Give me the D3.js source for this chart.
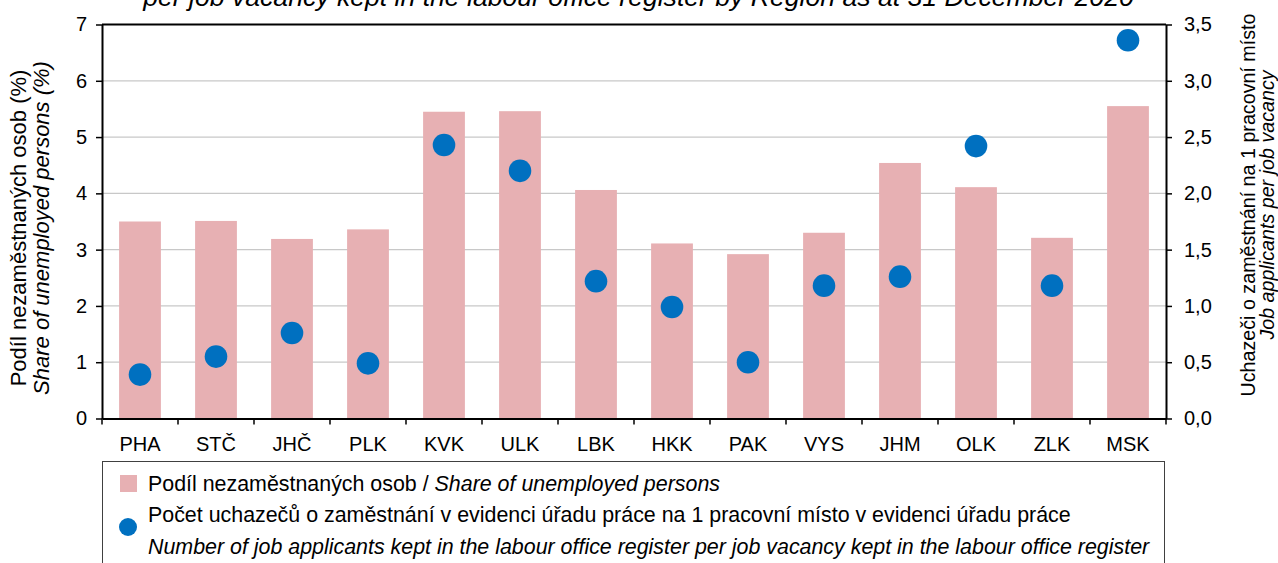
<!DOCTYPE html>
<html>
<head>
<meta charset="utf-8">
<script src="https://cdn.jsdelivr.net/npm/d3@7"></script>
<style>
  body { margin: 0; background: #fff; overflow: hidden; }
  text { font-family: "Liberation Sans", Arial, sans-serif; fill: #000; }
</style>
</head>
<body>
<div id="chart"></div>
<script>
var regions = ['PHA', 'STČ', 'JHČ', 'PLK', 'KVK', 'ULK', 'LBK', 'HKK', 'PAK', 'VYS', 'JHM', 'OLK', 'ZLK', 'MSK'];
var shareUnemployed = [3.50, 3.51, 3.19, 3.36, 5.45, 5.46, 4.06, 3.11, 2.92, 3.30, 4.54, 4.11, 3.21, 5.55];
var applicantsPerVacancy = [0.39, 0.55, 0.76, 0.49, 2.43, 2.20, 1.22, 0.99, 0.50, 1.18, 1.26, 2.42, 1.18, 3.36];
var leftTicks = [0, 1, 2, 3, 4, 5, 6, 7];
var rightTicks = [0, 0.5, 1, 1.5, 2, 2.5, 3, 3.5];

var W = 1278, H = 563;
var plotLeft = 102, plotRight = 1166, plotTop = 24.5, plotBottom = 418.5;
var font = '"Liberation Sans", Arial, sans-serif';

var svg = d3.select('#chart')
  .append('svg')
  .attr('width', W)
  .attr('height', H);

// bars take ~55% of each category slot
var x = d3.scaleBand()
  .domain(regions)
  .range([plotLeft, plotRight])
  .paddingInner(0.45)
  .paddingOuter(0.225);

var yL = d3.scaleLinear().domain([0, 7]).range([plotBottom, plotTop]);
var yR = d3.scaleLinear().domain([0, 3.5]).range([plotBottom, plotTop]);

var comma = function(d) { return d3.format('.1f')(d).replace('.', ','); };

// gridlines
svg.append('g')
  .selectAll('line')
  .data(leftTicks.slice(1, -1))
  .enter()
  .append('line')
  .attr('x1', plotLeft).attr('x2', plotRight)
  .attr('y1', function(d) { return yL(d); })
  .attr('y2', function(d) { return yL(d); })
  .attr('stroke', '#c8c8c8')
  .attr('stroke-width', 1.3);

// bars
svg.append('g')
  .selectAll('rect')
  .data(shareUnemployed)
  .enter()
  .append('rect')
  .attr('x', function(d, i) { return x(regions[i]); })
  .attr('y', function(d) { return yL(d); })
  .attr('width', x.bandwidth())
  .attr('height', function(d) { return plotBottom - yL(d); })
  .attr('fill', '#e7b0b3');

// dots
svg.append('g')
  .selectAll('circle')
  .data(applicantsPerVacancy)
  .enter()
  .append('circle')
  .attr('cx', function(d, i) { return x(regions[i]) + x.bandwidth() / 2; })
  .attr('cy', function(d) { return yR(d); })
  .attr('r', 11.3)
  .attr('fill', '#0070c0');

// axes
var axL = svg.append('g')
  .attr('transform', 'translate(' + plotLeft + ',0)')
  .call(d3.axisLeft(yL).tickValues(leftTicks).tickSize(6).tickSizeOuter(0).tickPadding(9).tickFormat(d3.format('d')));
var axR = svg.append('g')
  .attr('transform', 'translate(' + plotRight + ',0)')
  .call(d3.axisRight(yR).tickValues(rightTicks).tickSize(6).tickSizeOuter(0).tickPadding(12).tickFormat(comma));
[axL, axR].forEach(function(ax) {
  ax.select('.domain').attr('stroke', '#000').attr('stroke-width', 2);
  ax.selectAll('.tick line').attr('stroke', '#000').attr('stroke-width', 1.5);
  ax.selectAll('.tick text')
    .attr('font-size', '20px')
    .attr('font-family', font)
    .attr('fill', '#000');
});

// top border
svg.append('line')
  .attr('x1', plotLeft).attr('x2', plotRight)
  .attr('y1', plotTop).attr('y2', plotTop)
  .attr('stroke', '#000').attr('stroke-width', 2);

var axB = svg.append('g')
  .attr('transform', 'translate(0,' + plotBottom + ')')
  .call(d3.axisBottom(x).tickSize(0).tickSizeOuter(0));
axB.select('.domain').attr('stroke', '#000').attr('stroke-width', 2);
axB.selectAll('.tick text')
  .attr('y', 32.5)
  .attr('dy', 0)
  .attr('font-size', '20px')
  .attr('font-family', font)
  .attr('fill', '#000');

// category separators below the axis
var bounds = regions.map(function(c) { return x(c) + x.bandwidth() / 2 - x.step() / 2; });
bounds.push(plotRight);
svg.append('g')
  .selectAll('line')
  .data(bounds)
  .enter()
  .append('line')
  .attr('x1', function(d) { return d; })
  .attr('x2', function(d) { return d; })
  .attr('y1', plotBottom)
  .attr('y2', plotBottom + 6)
  .attr('stroke', '#000')
  .attr('stroke-width', 1.5);

// title (cut at top of the picture)
svg.append('text')
  .attr('x', 638.5)
  .attr('y', 6)
  .attr('text-anchor', 'middle')
  .attr('font-size', '26.6px')
  .attr('font-style', 'italic')
  .text('per job vacancy kept in the labour office register by Region as at 31 December 2020');

// axis titles
var lt = svg.append('text')
  .attr('transform', 'translate(26,228) rotate(-90)')
  .attr('text-anchor', 'middle')
  .attr('font-size', '22px');
lt.append('tspan').attr('x', 0).attr('dy', 0).text('Podíl nezaměstnaných osob (%)');
lt.append('tspan').attr('x', 0).attr('dy', 23).attr('font-style', 'italic').text('Share of unemployed persons (%)');

var rt = svg.append('text')
  .attr('transform', 'translate(1255,205) rotate(-90)')
  .attr('text-anchor', 'middle')
  .attr('font-size', '19.7px');
rt.append('tspan').attr('x', 0).attr('dy', 0).text('Uchazeči o zaměstnání na 1 pracovní místo');
rt.append('tspan').attr('x', 0).attr('dy', 19).attr('font-style', 'italic').text('Job applicants per job vacancy');

// legend
var lg = svg.append('g');
lg.append('rect')
  .attr('x', 102.5).attr('y', 461.5)
  .attr('width', 1062).attr('height', 130)
  .attr('fill', 'none')
  .attr('stroke', '#404040')
  .attr('stroke-width', 1);
lg.append('rect')
  .attr('x', 120).attr('y', 475)
  .attr('width', 17).attr('height', 17)
  .attr('fill', '#e7b0b3');
var l1 = lg.append('text').attr('x', 148).attr('y', 491).attr('font-size', '21.4px');
l1.append('tspan').text('Podíl nezaměstnaných osob / ');
l1.append('tspan').attr('font-style', 'italic').text('Share of unemployed persons');
lg.append('circle')
  .attr('cx', 128).attr('cy', 527)
  .attr('r', 9)
  .attr('fill', '#0070c0');
lg.append('text').attr('x', 148).attr('y', 522).attr('font-size', '21.4px')
  .text('Počet uchazečů o zaměstnání v evidenci úřadu práce na 1 pracovní místo v evidenci úřadu práce');
lg.append('text').attr('x', 148).attr('y', 554).attr('font-size', '21.4px').attr('font-style', 'italic')
  .text('Number of job applicants kept in the labour office register per job vacancy kept in the labour office register');
</script>
</body>
</html>
